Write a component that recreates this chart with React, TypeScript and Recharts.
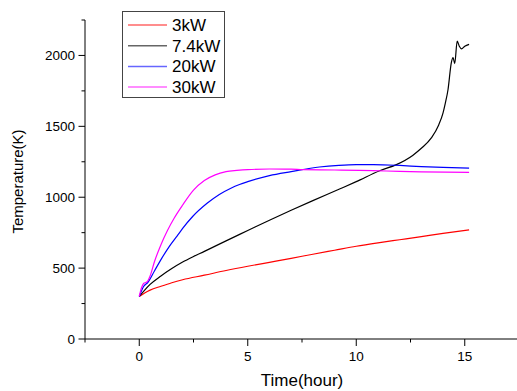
import { LineChart, Line, XAxis, YAxis, Legend } from "recharts"

// 3kW
const t3 = [0, 0.25, 0.5, 1, 1.5, 2, 3, 4, 5, 6, 7, 8, 9, 10, 11, 12, 13, 14, 15.2]
const k3 = [300, 325, 345, 372, 397, 418, 450, 483, 513, 541, 569, 598, 626, 654, 678, 700, 722, 745, 770]

// 7.4kW
const t74 = [0, 0.25, 0.5, 1, 1.5, 2, 2.5, 3, 3.5, 4, 5, 6, 7, 8, 9.23, 10, 11.08, 11.85, 12.6, 13, 13.46, 13.8, 14.0, 14.1, 14.23, 14.38, 14.46, 14.54, 14.65, 14.75, 14.85, 15.0, 15.2]
const k74 = [300, 345, 385, 445, 497, 543, 582, 618, 655, 692, 765, 838, 908, 976, 1058, 1110, 1187, 1230, 1295, 1345, 1418, 1510, 1595, 1660, 1760, 1948, 1984, 1943, 2101, 2065, 2047, 2065, 2078]

// 20kW
const t20 = [0, 0.2, 0.4, 0.7, 1, 1.38, 1.75, 2, 2.46, 3.14, 3.69, 4.2, 4.62, 5, 6, 7, 8.3, 9.2, 10, 10.8, 12, 13, 14, 15.2]
const k20 = [300, 370, 400, 480, 560, 652, 728, 780, 864, 959, 1020, 1062, 1090, 1110, 1152, 1180, 1213, 1225, 1230, 1230, 1224, 1216, 1210, 1205]

// 30kW
const t30 = [0, 0.1, 0.2, 0.35, 0.5, 0.7, 1, 1.3, 1.6, 2, 2.5, 3, 3.5, 4, 4.5, 5, 6, 7, 7.54, 9, 10.77, 12, 13, 15.2]
const k30 = [300, 360, 392, 402, 445, 545, 665, 765, 850, 945, 1050, 1118, 1158, 1180, 1189, 1195, 1199, 1198, 1194, 1192, 1188, 1182, 1179, 1175]

const xTicks = [-2.5, 0, 2.5, 5, 7.5, 10, 12.5, 15, 17.5]
const xLabels = [0, 5, 10, 15]
const yTicks = [0, 250, 500, 750, 1000, 1250, 1500, 1750, 2000, 2250]
const yLabels = [0, 500, 1000, 1500, 2000]

const series = [
  { name: "3kW", color: "#ff0000", t: t3, k: k3 },
  { name: "7.4kW", color: "#000000", t: t74, k: k74 },
  { name: "20kW", color: "#0000ff", t: t20, k: k20 },
  { name: "30kW", color: "#ff00ff", t: t30, k: k30 },
]

const font = "'Liberation Sans', Arial, sans-serif"

const XTick = (props: any) => {
  const { x, y, payload } = props
  const major = xLabels.includes(payload.value)
  return (
    <g>
      <line x1={x} y1={y} x2={x} y2={y + (major ? 7 : 3.5)} stroke="#000" />
      {major && (
        <text x={x} y={y + 22} textAnchor="middle" fontSize={13.5} fontFamily={font} fill="#000">
          {payload.value}
        </text>
      )}
    </g>
  )
}

const YTick = (props: any) => {
  const { x, y, payload } = props
  const major = yLabels.includes(payload.value)
  return (
    <g>
      <line x1={x} y1={y} x2={x - (major ? 6.5 : 3.5)} y2={y} stroke="#000" />
      {major && (
        <text x={x - 10} y={y + 5} textAnchor="end" fontSize={13.5} fontFamily={font} fill="#000">
          {payload.value}
        </text>
      )}
    </g>
  )
}

const LegendBox = () => (
  <svg width={103} height={88} style={{ display: "block" }}>
    <rect x={0.5} y={0.5} width={102} height={86} fill="#fff" stroke="#444" />
    {series.map((s, i) => {
      const cy = 14 + i * 20.7
      return (
        <g key={s.name}>
          <line x1={6} x2={45} y1={cy} y2={cy} stroke={s.color} strokeOpacity={0.6} strokeWidth={1.5} />
          <text x={50} y={cy + 6} fontSize={17} fontFamily={font} fill="#000">
            {s.name}
          </text>
        </g>
      )
    })}
  </svg>
)

const App = () => {
  return (
    <div style={{ position: "absolute", left: 0, top: 0, width: 517, height: 391, overflow: "hidden", background: "#fff" }}>
      <LineChart width={530} height={391} margin={{ top: 20, right: 11, bottom: 0, left: 0 }}>
        <XAxis
          type="number"
          dataKey="t"
          domain={[-2.5, 17.5]}
          ticks={xTicks}
          allowDataOverflow
          height={52}
          tickSize={0}
          tickMargin={0}
          tick={<XTick />}
          tickLine={false}
          interval={0}
          stroke="#000"
          label={{
            content: ({ viewBox }: any) => (
              <text x={viewBox.x + viewBox.width / 2} y={viewBox.y + viewBox.height - 5} textAnchor="middle" fontSize={17} fontFamily={font} fill="#000">
                Time(hour)
              </text>
            ),
          }}
        />
        <YAxis
          type="number"
          domain={[0, 2250]}
          ticks={yTicks}
          width={85}
          tickSize={0}
          tickMargin={0}
          tick={<YTick />}
          tickLine={false}
          interval={0}
          stroke="#000"
          label={{
            content: ({ viewBox }: any) => {
              const cx = 17
              const cy = viewBox.y + viewBox.height / 2 + 2
              return (
                <text x={cx} y={cy} transform={`rotate(-90 ${cx} ${cy})`} textAnchor="middle" dominantBaseline="central" fontSize={15} fontFamily={font} fill="#000">
                  Temperature(K)
                </text>
              )
            },
          }}
        />
        <Legend
          layout="horizontal"
          verticalAlign="middle"
          align="center"
          content={() => <LegendBox />}
          wrapperStyle={{ left: 122, top: 11, width: 103, height: 88 }}
        />
        {series.map((s) => (
          <Line
            key={s.name}
            name={s.name}
            data={s.t.map((t, i) => ({ t, k: s.k[i] }))}
            dataKey="k"
            type="monotone"
            stroke={s.color}
            strokeWidth={1.2}
            dot={false}
            isAnimationActive={false}
          />
        ))}
      </LineChart>
    </div>
  )
}

export default App
